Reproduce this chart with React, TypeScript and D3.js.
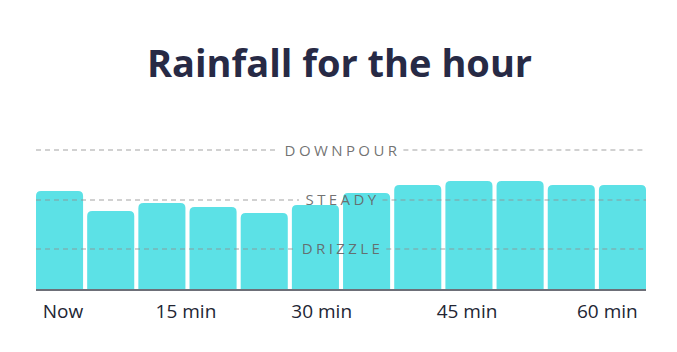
import React, { useEffect, useRef } from 'react';
import * as d3 from 'd3';

// rainfall intensity, one bar per 5 minutes (0 = none, 1 = downpour)
const intensity = [0.707, 0.564, 0.621, 0.593, 0.55, 0.607, 0.693, 0.75, 0.779, 0.779, 0.75, 0.75];
const levelNames = ['DOWNPOUR', 'STEADY', 'DRIZZLE'];
const levelValues = [1.0, 0.643, 0.293];
const tickLabels = ['Now', '15 min', '30 min', '45 min', '60 min'];
const tickMinutes = [2.66, 14.75, 28.1, 42.4, 56.2];

const W = 677;
const H = 352;

const App = () => {
  const svgRef = useRef<SVGSVGElement | null>(null);

  useEffect(() => {
    if (!svgRef.current) return;
    const svg = d3.select(svgRef.current);
    svg.selectAll('*').remove();

    const margin = { left: 36, right: 31, top: 150, bottom: 62 };
    const baseline = H - margin.bottom;

    const x = d3.scaleBand<number>()
      .domain(intensity.map((_, i) => i))
      .range([margin.left, W - margin.right])
      .paddingInner(0.08)
      .paddingOuter(0);

    const y = d3.scaleLinear().domain([0, 1]).range([baseline, margin.top]);
    const t = d3.scaleLinear().domain([0, 60]).range([margin.left, W - margin.right]);

    // title
    svg.append('text')
      .attr('x', W / 2 + 1)
      .attr('y', 77)
      .attr('text-anchor', 'middle')
      .style('font-family', '"Open Sans", sans-serif')
      .style('font-weight', 700)
      .style('font-size', '38px')
      .style('fill', '#272a45')
      .text('Rainfall for the hour');

    // bars with rounded top corners
    const r = 5;
    svg.append('g')
      .selectAll('path')
      .data(intensity)
      .enter()
      .append('path')
      .attr('fill', '#5ce1e6')
      .attr('d', (d, i) => {
        const x0 = x(i)!;
        const x1 = x0 + x.bandwidth();
        const top = y(d);
        return `M${x0},${baseline}V${top + r}Q${x0},${top} ${x0 + r},${top}H${x1 - r}Q${x1},${top} ${x1},${top + r}V${baseline}Z`;
      });

    // level lines with labels
    const cx = (margin.left + W - margin.right) / 2;
    const levels = svg.append('g');
    levelNames.forEach((name, i) => {
      const ly = y(levelValues[i]);
      const label = levels.append('text')
        .attr('x', cx + 1.5)
        .attr('y', ly + 5.5)
        .attr('text-anchor', 'middle')
        .style('font-family', '"Open Sans", sans-serif')
        .style('font-size', '15px')
        .style('letter-spacing', '3.4px')
        .style('fill', '#656565')
        .style('fill-opacity', 0.92)
        .text(name);
      const len = (label.node() as SVGTextElement).getComputedTextLength();
      const gap = 6;
      const segs = [
        [margin.left, cx - len / 2 - gap + 1],
        [cx + len / 2 + gap - 1.5, W - margin.right],
      ];
      segs.forEach(([a, b]) => {
        levels.append('line')
          .attr('x1', a)
          .attr('x2', b)
          .attr('y1', ly)
          .attr('y2', ly)
          .attr('stroke', '#8f8f8f')
          .attr('stroke-opacity', 0.55)
          .attr('stroke-width', 1.5)
          .attr('stroke-dasharray', '5,4');
      });
    });

    // baseline
    svg.append('line')
      .attr('x1', margin.left)
      .attr('x2', W - margin.right)
      .attr('y1', baseline)
      .attr('y2', baseline)
      .attr('stroke', '#6d6f78')
      .attr('stroke-width', 2);

    // time labels
    svg.append('g')
      .selectAll('text')
      .data(tickLabels)
      .enter()
      .append('text')
      .attr('x', (_, i) => t(tickMinutes[i]))
      .attr('y', 317.5)
      .attr('text-anchor', 'middle')
      .style('font-family', '"Open Sans", sans-serif')
      .style('font-weight', 500)
      .style('font-size', '19px')
      .style('fill', '#222533')
      .text(d => d);
  }, []);

  return (
    <div style={{ position: 'fixed', left: 0, top: 0, width: W, height: H, background: '#fff' }}>
      <svg ref={svgRef} width={W} height={H} />
    </div>
  );
};

export default App;
